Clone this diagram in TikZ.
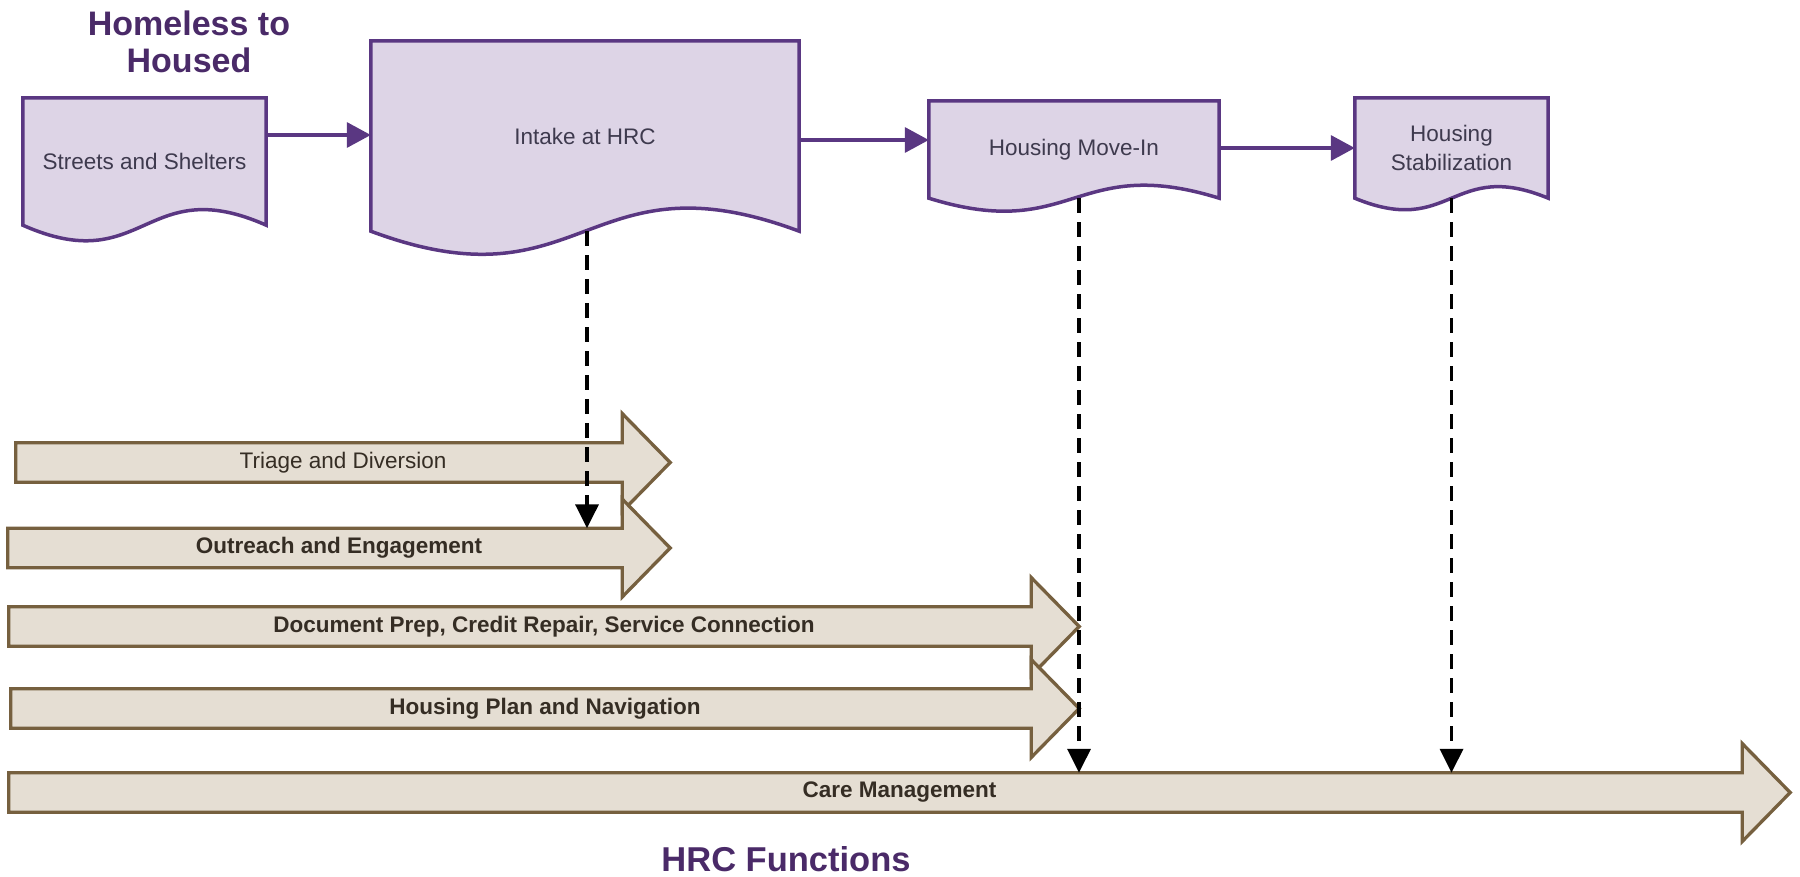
\documentclass[tikz,border=0pt]{standalone}
\usepackage{fontspec}
\setmainfont{Liberation Sans}
\usetikzlibrary{arrows.meta,calc,backgrounds}
\definecolor{docfill}{HTML}{DDD4E6}
\definecolor{docline}{HTML}{5A3782}
\definecolor{doctext}{HTML}{3E3A4E}
\definecolor{titlec}{HTML}{4A2A68}
\definecolor{bfill}{HTML}{E5DED3}
\definecolor{bline}{HTML}{76603F}
\definecolor{btext}{HTML}{352D24}
\newcommand\docpath[2]{%
  \path[docshape] (#1.south west) -- (#1.north west) -- (#1.north east) -- (#1.south east)
    .. controls ($(#1.south)+(0,-#2)$) and ($(#1.south)+(0,#2)$) .. (#1.south west) -- cycle;}
\newcommand\bigarrow[1]{%
  \path[barrowshape] (#1.north west) -- ($(#1.north east)+(-48,0)$) -- ($(#1.east)+(-48,-49)$)
    -- (#1.east) -- ($(#1.east)+(-48,49)$) -- ($(#1.south east)+(-48,0)$) -- (#1.south west) -- cycle;}
\begin{document}
\begin{tikzpicture}[x=1pt,y=-1pt,
  docshape/.style={fill=docfill, draw=docline, line width=3.5pt, line join=miter},
  docbox/.style={inner sep=0pt, text=doctext, font=\fontsize{22.5}{29}\selectfont, align=center},
  flow/.style={draw=docline, line width=3.5pt, -{Triangle[length=24pt,width=25pt]}},
  dasharrow/.style={draw=black, line width=3.5pt, dash pattern=on 15pt off 9pt, -{Triangle[length=24pt,width=23pt]}},
  barrowshape/.style={fill=bfill, draw=bline, line width=3.3pt, line join=miter},
  bbox/.style={inner sep=0pt, minimum height=39pt},
  blabel/.style={text=btext, inner sep=0pt, font=\fontsize{22.5}{27}\selectfont},
  bold/.style={font=\fontsize{22.5}{27}\selectfont\bfseries},
  titletext/.style={text=titlec, align=center, font=\fontsize{34}{37}\selectfont\bfseries}
]
\useasboundingbox (0,0) rectangle (1800,877);

% titles
\node[titletext] (ttl) at (189,41.5) {Homeless to\\Housed};
\node[titletext, font=\fontsize{34.5}{37}\selectfont\bfseries] (hrc) at (786,859) {HRC Functions};

% documents
\node[docbox, minimum width=243pt, minimum height=127pt] (streets) at (144.5,161.5) {Streets and Shelters};
\node[docbox, minimum width=428pt, minimum height=190pt] (intake) at (585,136) {Intake at HRC};
\node[docbox, minimum width=290pt, minimum height=97pt] (movein) at (1074,149.5) {Housing Move-In};
\node[docbox, minimum width=193pt, minimum height=100pt] (stab) at (1451.5,148) {Housing\\Stabilization};
\begin{scope}[on background layer]
  \docpath{streets}{54}
  \docpath{intake}{80}
  \docpath{movein}{45}
  \docpath{stab}{40}
\end{scope}

% flow arrows
\coordinate (ya) at (0,135);
\coordinate (yb) at (0,140);
\coordinate (yc) at (0,148);
\draw[flow] (streets.east |- ya) -- (intake.west |- ya);
\draw[flow] (intake.east |- yb) -- (movein.west |- yb);
\draw[flow] (movein.east |- yc) -- (stab.west |- yc);

% block arrows
\node[bbox, minimum width=654pt] (triage) at (343,462.5) {};
\bigarrow{triage}
\node[blabel] (triaget) at (triage.center) {Triage and Diversion};

\node[bbox, minimum width=662pt] (outreach) at (339,548) {};
\bigarrow{outreach}
\node[blabel, bold] (outreacht) at (outreach.center) {Outreach and Engagement};

\node[bbox, minimum width=1070pt] (docprep) at (544,626.5) {};
\bigarrow{docprep}
\node[blabel, bold] (docprept) at (docprep.center) {Document Prep, Credit Repair, Service Connection};

\node[bbox, minimum width=1068pt] (plan) at (545,708.5) {};
\bigarrow{plan}
\node[blabel, bold] (plant) at (plan.center) {Housing Plan and Navigation};

\node[bbox, minimum width=1781pt] (care) at (899.5,792.5) {};
\bigarrow{care}
\node[blabel, bold] (caret) at (care.center) {Care Management};

% dashed arrows
\draw[dasharrow] ($(intake.south)+(2,0)$) -- ($(intake.south |- outreach.north)+(2,0)$);
\draw[dasharrow] ($(movein.south)+(5,0)$) -- ($(movein.south |- care.north)+(5,0)$);
\draw[dasharrow] (stab.south) -- (stab.south |- care.north);
\end{tikzpicture}
\end{document}
